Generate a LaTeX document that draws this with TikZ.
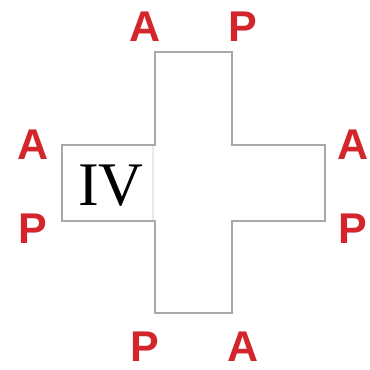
\documentclass[tikz,border=0pt]{standalone}
\usepackage{fontspec}
\setmainfont{Liberation Serif}
\newfontfamily\labelfont{Liberation Sans}
\definecolor{pole}{RGB}{211,38,44}
\definecolor{rim}{RGB}{168,168,168}
\tikzset{
  side/.style = {font=\labelfont\bfseries\fontsize{43}{43}\selectfont,
    text=pole, inner sep=0pt, anchor=center},
  rimline/.style = {draw=rim, line width=2pt, line join=miter}
}
\begin{document}
\begin{tikzpicture}[x=1pt, y=-1pt]
\useasboundingbox (0,0) rectangle (370,370);
% faint seam of the left arm
\draw[draw=rim!25, line width=1.5pt] (153,146) -- (153,220);
% cross outline
\draw[rimline] (155,52) -- (232,52) -- (232,145) -- (325,145) -- (325,221)
  -- (232,221) -- (232,313) -- (155,313) -- (155,221) -- (62,221)
  -- (62,145) -- (155,145) -- cycle;
\node (num) at (111,186) {\fontsize{62}{62}\selectfont IV};
% pole labels
\node[side] (topA) at (145,27) {A};
\node[side] (topP) at (243,27) {P};
\node[side] (leftA) at (33,145) {A};
\node[side] (leftP) at (33,229) {P};
\node[side] (rightA) at (353,145) {A};
\node[side] (rightP) at (353,229) {P};
\node[side] (botP) at (145,347) {P};
\node[side] (botA) at (243,347) {A};
\end{tikzpicture}
\end{document}
